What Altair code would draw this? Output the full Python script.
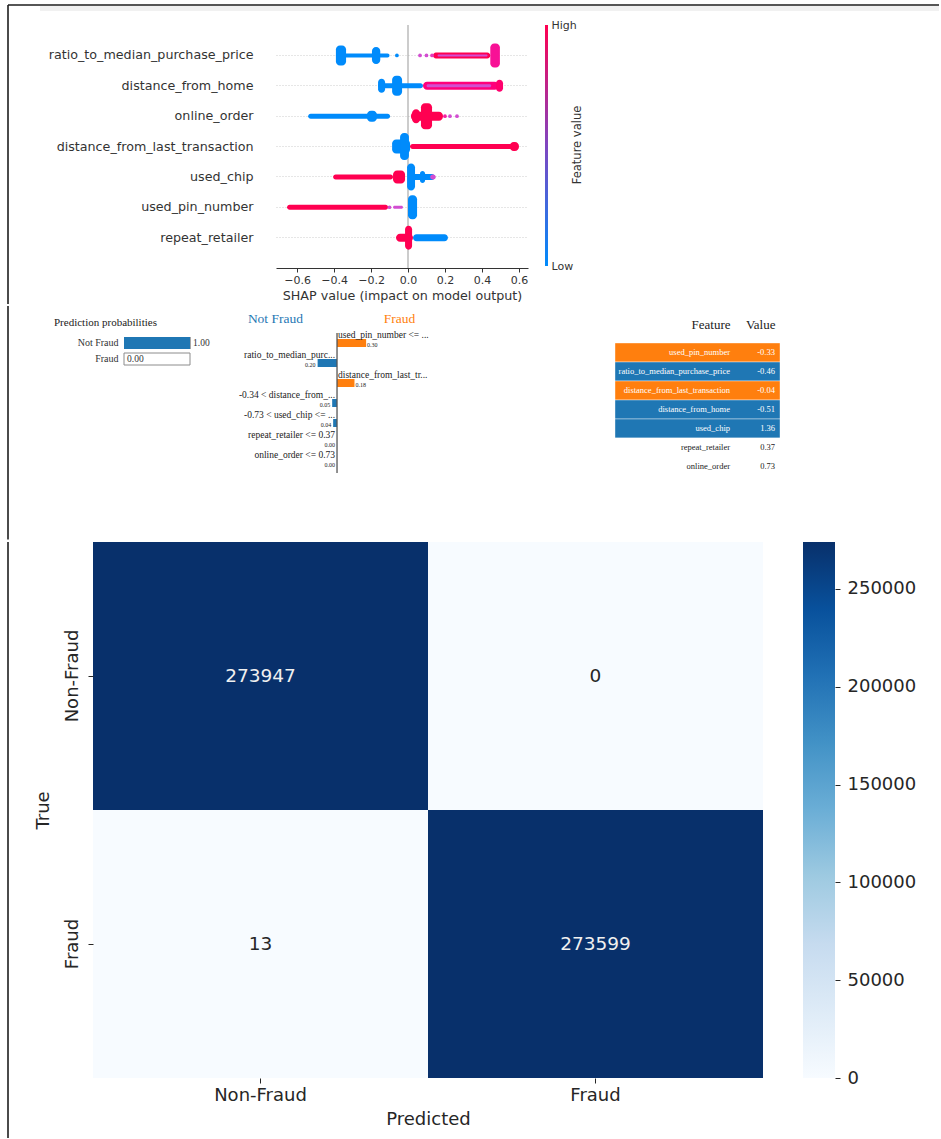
import altair as alt
import pandas as pd

# ---------------- SHAP summary plot ----------------
shap_features = ["ratio_to_median_purchase_price", "distance_from_home", "online_order",
                 "distance_from_last_transaction", "used_chip", "used_pin_number", "repeat_retailer"]
R, DH, OO, DL, UC, UP, RR = shap_features

# dense streaks of the beeswarm: feature, first and last SHAP value, local spread of points, feature value (0 low, 1 high)
streak_feature = [R, R, R, R, R, R,
                  DH, DH, DH, DH, DH, DH,
                  OO, OO, OO, OO, OO,
                  DL, DL, DL, DL,
                  UC, UC, UC, UC, UC, UC,
                  UP, UP, UP,
                  RR, RR, RR]
streak_start = [-0.39, -0.39, -0.195, 0.135, 0.16, 0.445,
                -0.162, -0.162, -0.086, 0.081, 0.10, 0.476,
                -0.54, -0.222, 0.016, 0.07, 0.022,
                -0.086, -0.043, 0.011, 0.55,
                -0.405, -0.081, 0.0, -0.005, 0.065, 0.12,
                -0.654, -0.081, 0.0,
                -0.065, -0.016, 0.027]
streak_end = [-0.10, -0.335, -0.15, 0.445, 0.43, 0.497,
              0.081, -0.124, -0.032, 0.49, 0.45, 0.514,
              -0.097, -0.168, 0.189, 0.13, 0.065,
              0.011, 0.005, 0.595, 0.60,
              -0.081, -0.016, 0.146, 0.038, 0.092, 0.15,
              -0.108, -0.027, 0.049,
              0.027, 0.022, 0.216]
streak_spread = [4, 20, 17, 6, 2, 24,
                 5, 14, 20, 8, 3, 12,
                 5, 11, 9, 26, 14,
                 14, 27, 5, 9,
                 5, 13, 6, 27, 12, 5,
                 5, 3, 24,
                 8, 24, 7]
streak_value = [0, 0, 0, 1, 0.5, 0.75,
                0, 0, 0, 0.85, 0.5, 0.9,
                0, 0, 1, 1, 1,
                0, 0, 1, 1,
                1, 1, 0, 0, 0, 0.5,
                1, 0.5, 0,
                1, 1, 0]
# isolated points
dot_feature = [R, R, R, R, OO, OO, OO, UP]
dot_shap = [-0.06, 0.065, 0.10, 0.13, 0.20, 0.227, 0.265, -0.10]
dot_value = [0, 0.5, 0.5, 0.6, 0.7, 0.5, 0.5, 0.5]
shap_ticks = [-0.6, -0.4, -0.2, 0.0, 0.2, 0.4, 0.6]
fv_ticks = [0, 1]
fv_tick_labels = ["Low", "High"]

# ---------------- LIME explanation ----------------
prob_title = "Prediction probabilities"
prob_classes = ["Not Fraud", "Fraud"]
prob_values = [1.00, 0.00]
lime_conditions = ["used_pin_number <= ...", "ratio_to_median_purc...", "distance_from_last_tr...",
                   "-0.34 < distance_from_...", "-0.73 < used_chip <= ...",
                   "repeat_retailer <= 0.37", "online_order <= 0.73"]
lime_weights = [0.30, -0.20, 0.18, -0.05, -0.04, 0.00, 0.00]
table_features = ["used_pin_number", "ratio_to_median_purchase_price", "distance_from_last_transaction",
                  "distance_from_home", "used_chip", "repeat_retailer", "online_order"]
table_values = ["-0.33", "-0.46", "-0.04", "-0.51", "1.36", "0.37", "0.73"]
table_side = ["Fraud", "Not Fraud", "Fraud", "Not Fraud", "Not Fraud", "none", "none"]
table_columns = ["Feature", "Value"]

# ---------------- Confusion matrix ----------------
cm_labels = ["Non-Fraud", "Fraud"]
cm_true = ["Non-Fraud", "Non-Fraud", "Fraud", "Fraud"]
cm_pred = ["Non-Fraud", "Fraud", "Non-Fraud", "Fraud"]
cm_count = [273947, 0, 13, 273599]
cb_ticks = [0, 50000, 100000, 150000, 200000, 250000]

MPL = "DejaVu Sans"
SERIF = "Liberation Serif"
BLUE, ORANGE = "#1f77b4", "#ff7f0e"
SHAP_BLUE, SHAP_RED = "#008bfb", "#ff0051"
FRAME = "#1e1e1e"
one = pd.DataFrame({"k": [0]})


def frame_line(y0, y1):
    return alt.Chart(one).mark_rule(color=FRAME, strokeWidth=1.6).encode(
        x=alt.value(0), y=alt.value(y0), y2=alt.value(y1))


def vertical_gradient(colors):
    n = len(colors) - 1
    return {"gradient": "linear", "x1": 0, "y1": 1, "x2": 0, "y2": 0,
            "stops": [{"offset": i / n, "color": c} for i, c in enumerate(colors)]}


# ======================= SHAP chart =======================
streaks = pd.DataFrame({"feature": streak_feature, "start": streak_start, "end": streak_end,
                        "spread": streak_spread, "fv": streak_value})
dots = pd.DataFrame({"feature": dot_feature, "start": dot_shap, "fv": dot_value})
zero = pd.DataFrame({"start": [0.0]})

fv_scale = alt.Scale(domain=[0, 1], range=[SHAP_BLUE, SHAP_RED])
shap_x_scale = alt.Scale(domain=[-0.714, 0.649], nice=False, zero=False)
shap_x_axis = alt.Axis(title="SHAP value (impact on model output)", values=shap_ticks,
                       labelExpr="replace(format(datum.value, '.1f'), '-', '\u2212')",
                       labelFont=MPL, labelFontSize=11, labelColor="#333333", labelPadding=2,
                       tickColor="#333333", tickSize=4, domainColor="#333333", grid=False,
                       titleFont=MPL, titleFontSize=12.7, titleFontWeight="normal",
                       titleColor="#333333", titlePadding=4)
shap_y = alt.Y("feature:N", sort=shap_features,
               scale=alt.Scale(paddingInner=0, paddingOuter=0.5),
               axis=alt.Axis(title=None, domain=False, ticks=False, grid=True,
                             gridColor="#cccccc", gridDash=[1, 2], labelFont=MPL,
                             labelFontSize=12.7, labelColor="#333333", labelPadding=23,
                             labelLimit=400))

shap_zero = alt.Chart(zero).mark_rule(color="#999999", strokeWidth=1).encode(
    x=alt.X("start:Q", scale=shap_x_scale, axis=shap_x_axis))
shap_bars = alt.Chart(streaks).mark_bar(cornerRadius=4).encode(
    y=shap_y,
    x=alt.X("start:Q", scale=shap_x_scale, axis=shap_x_axis),
    x2="end:Q",
    size=alt.Size("spread:Q", scale=None, legend=None),
    color=alt.Color("fv:Q", scale=fv_scale, legend=None))
shap_dots = alt.Chart(dots).mark_circle(size=14, opacity=1).encode(
    y=shap_y,
    x=alt.X("start:Q", scale=shap_x_scale, axis=shap_x_axis),
    color=alt.Color("fv:Q", scale=fv_scale, legend=None))
shap_cbar_title = alt.Chart(one).mark_text(
    text="Feature value", angle=270, font=MPL, fontSize=11.5, color="#333333",
    align="center", baseline="middle").encode(x=alt.value(302), y=alt.value(120))
shap = alt.layer(shap_zero, shap_bars, shap_dots, shap_cbar_title).properties(width=252, height=243)

# SHAP colour bar
fv_bar = pd.DataFrame({"lo": [min(fv_ticks)], "hi": [max(fv_ticks)]})
cbar1 = alt.Chart(fv_bar).mark_rect().encode(
    x=alt.value(0), x2=alt.value("width"),
    y=alt.Y("lo:Q", scale=alt.Scale(domain=[min(fv_ticks), max(fv_ticks)], nice=False),
            axis=alt.Axis(orient="right", values=fv_ticks,
                          labelExpr=f"datum.value == {fv_ticks[0]} ? '{fv_tick_labels[0]}' : '{fv_tick_labels[1]}'",
                          ticks=False, domain=False, grid=False, title=None, labelFlush=False,
                          labelFont=MPL, labelFontSize=11, labelColor="#333333", labelPadding=3)),
    y2="hi:Q",
    color=alt.value(vertical_gradient([SHAP_BLUE, "#7f46c0", SHAP_RED]))
).properties(width=3, height=241)

# left margin of row 1 (page frame: top line, shadow band, left line)
sp1_band = alt.Chart(one).mark_rect(color="#f1f1f1").encode(
    x=alt.value(32), x2=alt.value(931), y=alt.value(-19), y2=alt.value(-14))
sp1_top = alt.Chart(one).mark_rule(color=FRAME, strokeWidth=1.6).encode(
    x=alt.value(0), x2=alt.value(931), y=alt.value(-20))
spacer1 = alt.layer(sp1_band, sp1_top, frame_line(-20, 279)).properties(width=251, height=1)
row1 = alt.hconcat(spacer1, shap, cbar1, spacing=17, bounds="flush")

# ======================= LIME: prediction probabilities =======================
probs_df = pd.DataFrame({"cls": prob_classes, "p": prob_values})
prob_y = alt.Y("cls:N", sort=prob_classes, scale=alt.Scale(paddingInner=0, paddingOuter=0.125),
               axis=alt.Axis(title=None, domain=False, ticks=False, labelFont=SERIF,
                             labelFontSize=10, labelColor="#333333", labelPadding=6))
prob_x_scale = alt.Scale(domain=[0, 1], nice=False)
probs_box = alt.Chart(probs_df).mark_bar(size=12, fill="white", stroke="#8c8c8c", strokeWidth=1).encode(
    y=prob_y, x=alt.X("p:Q", scale=prob_x_scale, axis=None), x2=alt.datum(1.0))
probs_bar = alt.Chart(probs_df).mark_bar(size=12).encode(
    y=prob_y, x=alt.X("p:Q", scale=prob_x_scale, axis=None),
    color=alt.Color("cls:N", scale=alt.Scale(domain=prob_classes, range=[BLUE, ORANGE]), legend=None))
probs_txt = alt.Chart(probs_df).mark_text(align="left", dx=3, font=SERIF, fontSize=9.5,
                                          color="#333333").encode(
    y=prob_y, x=alt.X("p:Q", scale=prob_x_scale, axis=None), text=alt.Text("p:Q", format=".2f"))
probs_head = alt.Chart(one).mark_text(
    text=prob_title, align="left", baseline="middle", font=SERIF, fontSize=11,
    color="#222222").encode(x=alt.value(-70), y=alt.value(-10))
probs = alt.layer(probs_box, probs_bar, probs_txt, probs_head).properties(width=66, height=36)

# ======================= LIME: feature weights =======================
lime_df = pd.DataFrame({"cond": lime_conditions, "w": lime_weights})
lime_df["absw"] = lime_df["w"].abs()
lime_y = alt.Y("cond:N", sort=lime_conditions, scale=alt.Scale(paddingInner=0, paddingOuter=0), axis=None)
lime_x_scale = alt.Scale(domain=[-0.928, 2.278], nice=False, zero=False)
lime_x_axis = alt.Axis(orient="top", values=[-0.64, 0.64],
                       labelExpr="datum.value < 0 ? 'Not Fraud' : 'Fraud'",
                       labelColor={"condition": {"test": "datum.value < 0", "value": BLUE}, "value": ORANGE},
                       labelFont=SERIF, labelFontSize=13.5, labelPadding=8,
                       domain=False, ticks=False, grid=False, title=None)
lime_bars = alt.Chart(lime_df).mark_bar(size=8).encode(
    y=lime_y, x=alt.X("w:Q", scale=lime_x_scale, axis=lime_x_axis),
    color=alt.condition("datum.w > 0", alt.value(ORANGE), alt.value(BLUE)))
lime_axis_line = alt.Chart(one).mark_rule(color="#555555", strokeWidth=1.3).encode(x=alt.datum(0))
lime_lab_pos = alt.Chart(lime_df).transform_filter("datum.w > 0").mark_text(
    align="left", dx=1, dy=-8, font=SERIF, fontSize=9.5, color="#222222").encode(
    y=lime_y, x=alt.datum(0), text="cond:N")
lime_lab_neg = alt.Chart(lime_df).transform_filter("datum.w <= 0").mark_text(
    align="right", dx=-2, dy=-8, font=SERIF, fontSize=9.5, color="#222222").encode(
    y=lime_y, x=alt.datum(0), text="cond:N")
lime_val_pos = alt.Chart(lime_df).transform_filter("datum.w > 0").mark_text(
    align="left", dx=1, dy=2, font=SERIF, fontSize=6, color="#222222").encode(
    y=lime_y, x="w:Q", text=alt.Text("absw:Q", format=".2f"))
lime_val_neg = alt.Chart(lime_df).transform_filter("datum.w <= 0").mark_text(
    align="right", dx=-2, dy=2, font=SERIF, fontSize=6, color="#222222").encode(
    y=lime_y, x="w:Q", text=alt.Text("absw:Q", format=".2f"))
lime = alt.layer(lime_bars, lime_axis_line, lime_lab_pos, lime_lab_neg, lime_val_pos, lime_val_neg).properties(
    width=311, height=140)

# ======================= LIME: feature value table =======================
side_fill = {"Fraud": ORANGE, "Not Fraud": BLUE, "none": "white"}
side_text = {"Fraud": "white", "Not Fraud": "white", "none": "#222222"}
tab_rows = pd.DataFrame({"feature": table_features, "fill": [side_fill[s] for s in table_side]})
tab_cells = pd.DataFrame({
    "feature": table_features * 2,
    "col": ["Feature"] * len(table_features) + ["Value"] * len(table_features),
    "txt": table_features + table_values,
    "tc": [side_text[s] for s in table_side] * 2})
tab_y = alt.Y("feature:N", sort=table_features,
              scale=alt.Scale(paddingInner=0, paddingOuter=0.263, align=1), axis=None)
tab_rect = alt.Chart(tab_rows).mark_rect(stroke="white", strokeWidth=0.4).encode(
    y=tab_y, x=alt.value(0), x2=alt.value("width"), color=alt.Color("fill:N", scale=None))
tab_text = alt.Chart(tab_cells).mark_text(align="right", font=SERIF, fontSize=8.5).encode(
    y=tab_y,
    x=alt.X("col:N", sort=table_columns, scale=alt.Scale(type="point", range=[115, 160], padding=0),
            axis=alt.Axis(orient="top", title=None, domain=False, ticks=False, labelAlign="right",
                          labelFont=SERIF, labelFontSize=13, labelColor="#222222", labelPadding=2,
                          labelAngle=0)),
    text="txt:N", color=alt.Color("tc:N", scale=None))
table = alt.layer(tab_rect, tab_text).properties(width=165, height=143)

spacer2 = frame_line(-27, 206.5).properties(width=59, height=1)
row2 = alt.hconcat(spacer2, probs, lime, table, spacing=57, bounds="flush")

# ======================= Confusion matrix =======================
cm = pd.DataFrame({"true": cm_true, "pred": cm_pred, "count": cm_count})
blues = ["#f7fbff", "#deebf7", "#c6dbef", "#9ecae1", "#6baed6", "#4292c6", "#2171b5", "#08519c", "#08306b"]
cmax = max(cm_count)
cm_scale = alt.Scale(domain=[cmax * i / 8 for i in range(9)], range=blues)
cm_x = alt.X("pred:N", sort=cm_labels, title="Predicted",
             axis=alt.Axis(labelAngle=0, labelFont=MPL, labelFontSize=18, labelColor="#262626",
                           tickSize=5, tickColor="#262626", domain=False, labelPadding=3,
                           titleFont=MPL, titleFontSize=18, titleFontWeight="normal",
                           titleColor="#262626", titlePadding=6))
cm_y = alt.Y("true:N", sort=cm_labels, title="True",
             axis=alt.Axis(labelAngle=270, labelFont=MPL, labelFontSize=18, labelColor="#262626",
                           tickSize=5, tickColor="#262626", domain=False, labelPadding=7,
                           titleFont=MPL, titleFontSize=18, titleFontWeight="normal",
                           titleColor="#262626", titlePadding=11))
cm_rect = alt.Chart(cm).mark_rect().encode(
    x=cm_x, y=cm_y, color=alt.Color("count:Q", scale=cm_scale, legend=None))
cm_text = alt.Chart(cm).mark_text(font=MPL, fontSize=18.5).encode(
    x=cm_x, y=cm_y, text="count:Q",
    color=alt.condition(f"datum.count > {cmax / 2}", alt.value("#f0f0f0"), alt.value("#262626")))
heat = alt.layer(cm_rect, cm_text).properties(width=670, height=536)

# confusion-matrix colour bar
cb_bar = pd.DataFrame({"lo": [0], "hi": [cmax]})
cbar2 = alt.Chart(cb_bar).mark_rect().encode(
    x=alt.value(0), x2=alt.value("width"),
    y=alt.Y("lo:Q", scale=alt.Scale(domain=[0, cmax], nice=False, zero=True),
            axis=alt.Axis(orient="right", values=cb_ticks, format="d", tickSize=5,
                          tickColor="#262626", domain=False, grid=False, title=None,
                          labelFlush=False, labelFont=MPL, labelFontSize=18,
                          labelColor="#262626", labelPadding=7)),
    y2="hi:Q",
    color=alt.value(vertical_gradient(blues))
).properties(width=32, height=536)

spacer3 = frame_line(0, 596).properties(width=45, height=1)
row3 = alt.hconcat(spacer3, heat, cbar2, spacing=40, bounds="flush")

chart = alt.vconcat(row1, row2, row3, spacing=0).properties(
    padding={"left": 7, "top": 4, "right": 0, "bottom": 0}
).configure(background="white", font=MPL).configure_view(stroke=None)

chart.save("out.html", embed_options={"renderer": "svg", "actions": False})
